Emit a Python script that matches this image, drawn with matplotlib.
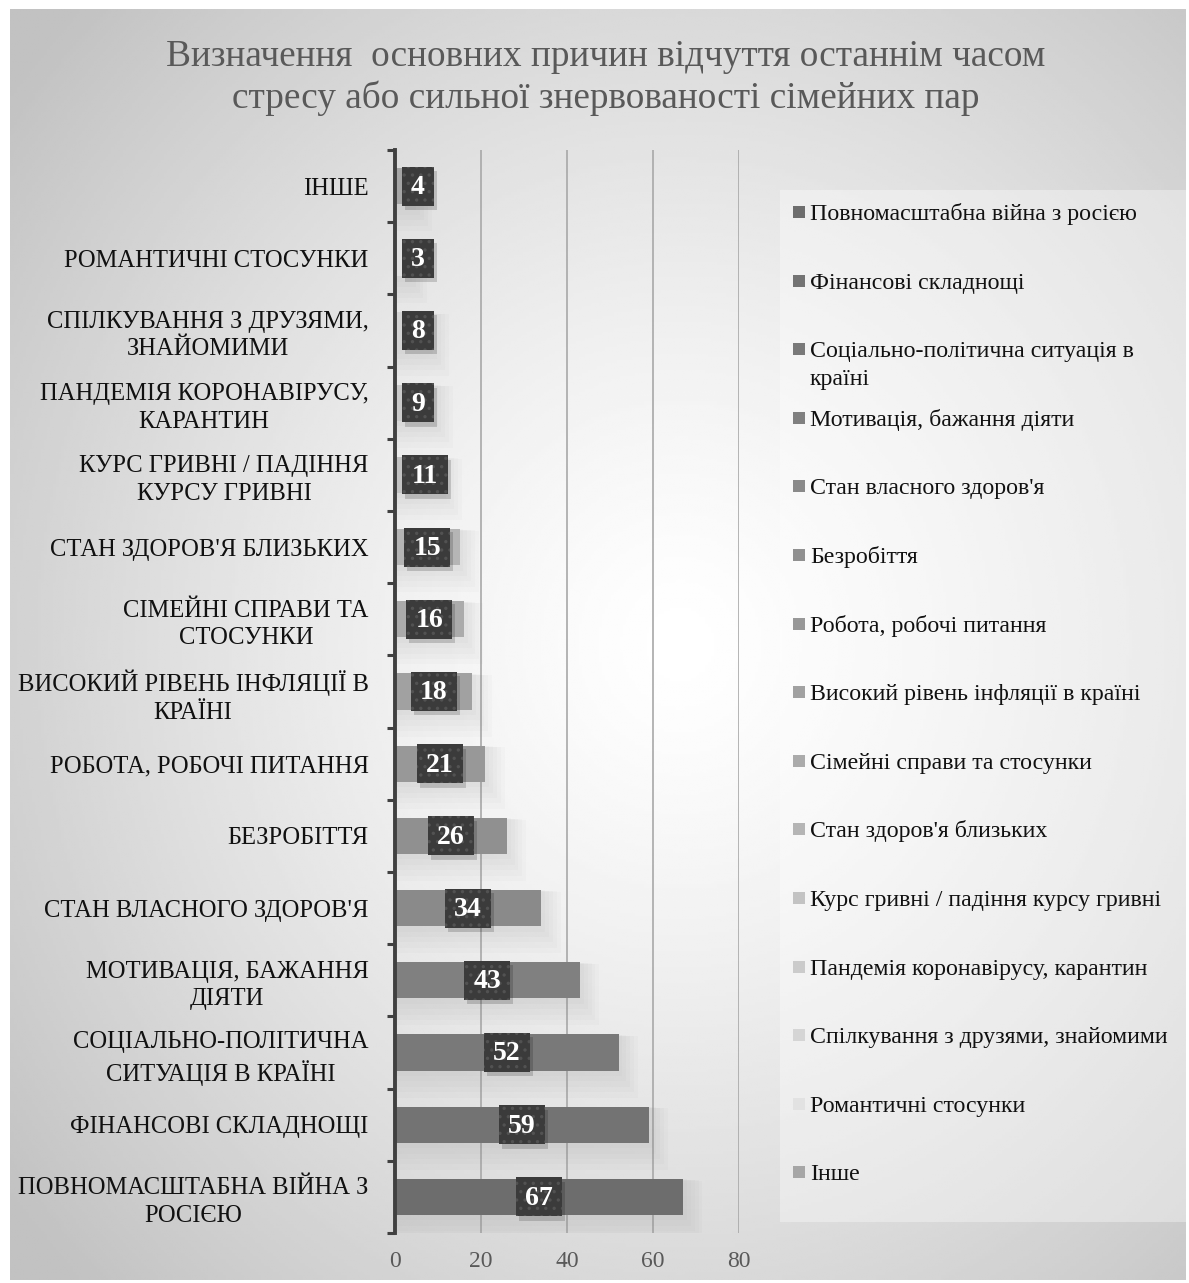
import numpy as np
import matplotlib
matplotlib.use("Agg")
import matplotlib.pyplot as plt
from matplotlib.patches import Rectangle

plt.rcParams['font.family'] = ['Liberation Serif', 'DejaVu Serif']
plt.rcParams['hatch.linewidth'] = 1.2

# data (bottom -> top, as drawn)
values = [67, 59, 52, 43, 34, 26, 21, 18, 16, 15, 11, 9, 8, 3, 4]
tick_labels = [
    "ПОВНОМАСШТАБНА ВІЙНА З\nРОСІЄЮ",
    "ФІНАНСОВІ СКЛАДНОЩІ",
    "СОЦІАЛЬНО-ПОЛІТИЧНА\nСИТУАЦІЯ В КРАЇНІ",
    "МОТИВАЦІЯ, БАЖАННЯ\nДІЯТИ",
    "СТАН ВЛАСНОГО ЗДОРОВ'Я",
    "БЕЗРОБІТТЯ",
    "РОБОТА, РОБОЧІ ПИТАННЯ",
    "ВИСОКИЙ РІВЕНЬ ІНФЛЯЦІЇ В\nКРАЇНІ",
    "СІМЕЙНІ СПРАВИ ТА\nСТОСУНКИ",
    "СТАН ЗДОРОВ'Я БЛИЗЬКИХ",
    "КУРС ГРИВНІ / ПАДІННЯ\nКУРСУ ГРИВНІ",
    "ПАНДЕМІЯ КОРОНАВІРУСУ,\nКАРАНТИН",
    "СПІЛКУВАННЯ З ДРУЗЯМИ,\nЗНАЙОМИМИ",
    "РОМАНТИЧНІ СТОСУНКИ",
    "ІНШЕ",
]
legend_labels = [
    "Повномасштабна війна з росією",
    "Фінансові складнощі",
    "Соціально-політична ситуація в\nкраїні",
    "Мотивація, бажання діяти",
    "Стан власного здоров'я",
    "Безробіття",
    "Робота, робочі питання",
    "Високий рівень інфляції в країні",
    "Сімейні справи та стосунки",
    "Стан здоров'я близьких",
    "Курс гривні / падіння курсу гривні",
    "Пандемія коронавірусу, карантин",
    "Спілкування з друзями, знайомими",
    "Романтичні стосунки",
    "Інше",
]
colors = ['#6d6d6d', '#737373', '#797979', '#808080', '#8a8a8a', '#909090',
          '#989898', '#a1a1a1', '#ababab', '#b5b5b5', '#c3c3c3', '#cbcbcb',
          '#d5d5d5', '#e2e2e2', '#a6a6a6']
title = "Визначення  основних причин відчуття останнім часом\nстресу або сильної знервованості сімейних пар"

W, H = 1189, 1283
fig = plt.figure(figsize=(W / 100, H / 100), dpi=100)
fig.patch.set_facecolor('white')

# radial gradient background of the chart area
bg = fig.add_axes([10 / W, 1 - 1280 / H, 1176 / W, 1271 / H], zorder=-10)
gx, gy = np.meshgrid(np.linspace(0, 1, 400), np.linspace(0, 1, 400))
r = np.sqrt((gx - 0.57) ** 2 + (gy - 0.5) ** 2)
shade = 1 - 0.24 * np.clip(r / 0.72, 0, 1) ** 1.3
bg.imshow(shade, cmap='gray', vmin=0, vmax=1, aspect='auto', extent=[0, 1, 0, 1])
bg.set_axis_off()

ax = fig.add_axes([395 / W, 1 - 1233 / H, 344 / W, 1083 / H])
ax.set_facecolor('none')
y = np.arange(len(values))

# soft glow behind the bars
for k in range(1, 6):
    ax.barh(y - 0.04 * k, [v + 0.9 * k for v in values], height=0.5 + 0.07 * k,
            color='#7a7a7a', alpha=0.03, zorder=1, linewidth=0)
ax.barh(y, values, height=0.5, color=colors, zorder=2, linewidth=0)

# data labels in dark boxes
px = 344 / 80.0
for yi, v in zip(y, values):
    s = str(v)
    hw = (14 * len(s) + 18) / 2 / px
    hh = 0.27
    cx = max(v / 2, hw + 7 / px)
    ax.add_patch(Rectangle((cx - hw + 3 / px, yi - hh - 0.06), 2 * hw, 2 * hh,
                           facecolor='#000000', alpha=0.16, linewidth=0, zorder=3))
    ax.add_patch(Rectangle((cx - hw, yi - hh), 2 * hw, 2 * hh, facecolor='#3b3b3b',
                           edgecolor='#525252', hatch='..', linewidth=0, zorder=4))
    ax.text(cx, yi - 0.02, s, ha='center', va='center', color='white',
            fontsize=20, fontweight='bold', zorder=5)

ax.set_xlim(0, 80)
ax.set_ylim(-0.5, len(values) - 0.5)
ax.set_xticks([0, 20, 40, 60, 80])
ax.tick_params(axis='x', length=0, labelsize=17, labelcolor='#595959', pad=13)
ax.set_yticks(np.arange(-0.5, len(values), 1.0))
ax.set_yticklabels([])
ax.set_yticks(y, minor=True)
ax.set_yticklabels(tick_labels, minor=True, fontsize=17.7, color='#111111',
                   ha='right', multialignment='center', linespacing=1.32)
ax.tick_params(axis='y', which='major', direction='out', length=6, width=2.2,
               color='#404040')
ax.tick_params(axis='y', which='minor', length=0, pad=19)
ax.xaxis.grid(True, color='#a8a8a8', linewidth=1.2, zorder=0)
ax.set_axisbelow(True)
for side in ['top', 'right', 'bottom']:
    ax.spines[side].set_visible(False)
ax.spines['left'].set_linewidth(2.8)
ax.spines['left'].set_color('#404040')

# title
fig.text(606 / W, 1 - 78 / H, title, ha='center', va='center', fontsize=26.8,
         color='#595959', linespacing=1.25)

# legend panel (drawn manually to keep the wide, even spacing)
fig.patches.append(Rectangle((780 / W, 1 - 1222 / H), 406 / W, 1032 / H,
                             transform=fig.transFigure, facecolor='white',
                             alpha=0.35, linewidth=0, zorder=-5))
for i, (lab, c) in enumerate(zip(legend_labels, colors)):
    ty = 212 + 68.6 * i
    fig.patches.append(Rectangle((793 / W, 1 - (ty + 6) / H), 12 / W, 12 / H,
                                 transform=fig.transFigure, facecolor=c,
                                 linewidth=0))
    for j, line in enumerate(lab.split('\n')):
        fig.text(810 / W, 1 - (ty + 8 + 28 * j) / H, line, ha='left',
                 va='baseline', fontsize=17.2, color='#111111')

fig.savefig('out.png', dpi=100)
